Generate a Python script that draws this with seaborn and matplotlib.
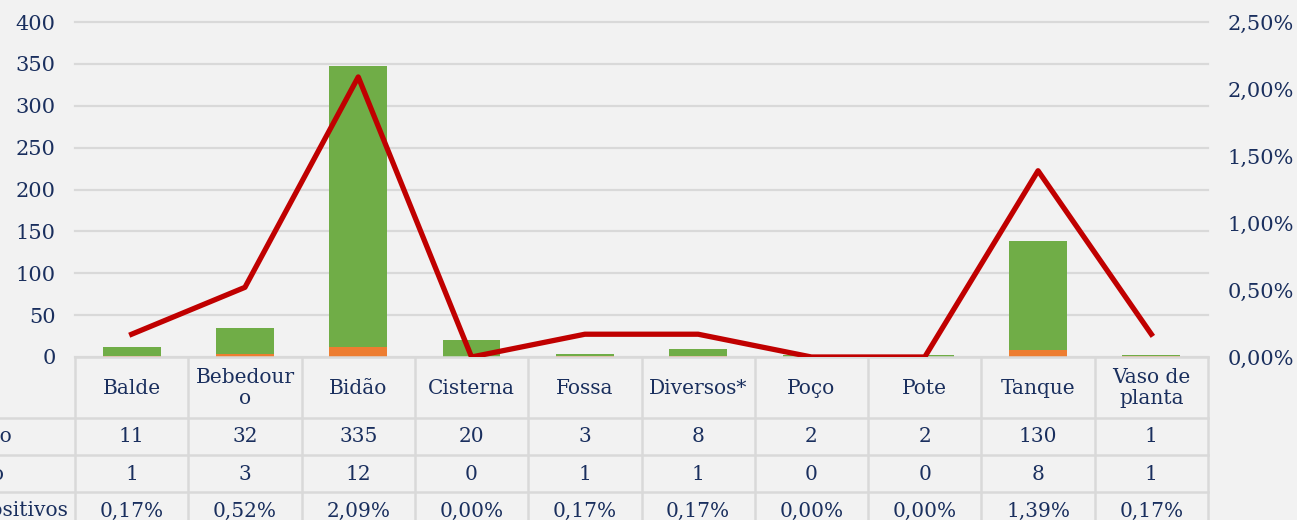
import numpy as np
import matplotlib
matplotlib.use("Agg")
import matplotlib.pyplot as plt
import seaborn as sns

# dados por tipo de depósito
categorias = ["Balde", "Bebedouro", "Bidão", "Cisterna", "Fossa", "Diversos*",
              "Poço", "Pote", "Tanque", "Vaso de planta"]
rotulos_tabela = ["Balde", "Bebedour\no", "Bidão", "Cisterna", "Fossa", "Diversos*",
                  "Poço", "Pote", "Tanque", "Vaso de\nplanta"]
negativo = [11, 32, 335, 20, 3, 8, 2, 2, 130, 1]
positivo = [1, 3, 12, 0, 1, 1, 0, 0, 8, 1]
pct_positivos = [0.17, 0.52, 2.09, 0.00, 0.17, 0.17, 0.00, 0.00, 1.39, 0.17]
linhas_tabela = ["Negativo", "Positivo", "% positivos"]

bg = "#F2F2F2"
navy = "#1A2F5E"
grid_c = "#D9D9D9"
green = "#70AD47"
orange = "#ED7D31"
red = "#C00000"

plt.rcParams["font.family"] = ["DejaVu Serif"]
plt.rcParams["font.size"] = 14

W, H = 1297, 520
fig = plt.figure(figsize=(W / 100, H / 100), dpi=100, facecolor=bg)
x0, x1, y0, y1 = 75, 1208, 357, 22
ax = fig.add_axes([x0 / W, (H - y0) / H, (x1 - x0) / W, (y0 - y1) / H])
ax.set_facecolor(bg)

total = [n + p for n, p in zip(negativo, positivo)]
idx = np.arange(len(categorias))
sns.barplot(x=idx, y=total, color=green, saturation=1, width=0.51, ax=ax, native_scale=True)
sns.barplot(x=idx, y=positivo, color=orange, saturation=1, width=0.51, ax=ax, native_scale=True)

ax.set_xlim(-0.5, len(categorias) - 0.5)
ax.set_ylim(0, 400)
ax.set_yticks(range(0, 401, 50))
ax.grid(axis="y", color=grid_c, lw=1.6)
ax.grid(axis="x", visible=False)
for gl in ax.get_ygridlines():
    gl.set_clip_on(False)
ax.set_axisbelow(True)
ax.tick_params(axis="x", length=0, labelbottom=False)
ax.tick_params(axis="y", length=0, pad=14, labelcolor=navy, labelsize=15)
ax.set_xlabel("")
ax.set_ylabel("")
for s in ax.spines.values():
    s.set_visible(False)

ax2 = ax.twinx()
sns.lineplot(x=idx, y=pct_positivos, color=red, lw=3.8, ax=ax2)
ax2.set_ylim(0, 2.5)
ax2.set_yticks(np.arange(0, 2.51, 0.5))
ax2.set_yticklabels([f"{v:.2f}%".replace(".", ",") for v in np.arange(0, 2.51, 0.5)])
ax2.tick_params(axis="y", length=0, pad=14, labelcolor=navy, labelsize=15)
ax2.set_ylabel("")
for s in ax2.spines.values():
    s.set_visible(False)

# tabela de dados abaixo do gráfico
tr = ax.get_xaxis_transform()
px = (x1 - x0) / len(categorias)          # pixels por categoria
h_ax = y0 - y1
def ya(ypix):
    return (y0 - ypix) / h_ax

row_y = [357, 418, 455, 492, 529]
left_edge = -0.5 - x0 / px
lk = dict(color=grid_c, lw=1.8, transform=tr, clip_on=False)
ax.plot([-0.5, 9.5], [0, 0], **lk)
for yy in row_y[1:4]:
    ax.plot([left_edge, 9.5], [ya(yy), ya(yy)], **lk)
for i in range(len(categorias) + 1):
    ax.plot([i - 0.5, i - 0.5], [0, ya(row_y[-1])], **lk)

tk = dict(color=navy, fontsize=14.5, ha="center", va="center", transform=tr,
          clip_on=False, linespacing=1.15)
for i, lab in enumerate(rotulos_tabela):
    ax.text(i, ya(388), lab, **tk)
    ax.text(i, ya(437), str(negativo[i]), **tk)
    ax.text(i, ya(474), str(positivo[i]), **tk)
    ax.text(i, ya(511), f"{pct_positivos[i]:.2f}%".replace(".", ","), **tk)

# rótulos das linhas, cortados pela borda esquerda como no original
for lab, yy, xend in zip(linhas_tabela, [437, 474, 511], [12, 5, 68]):
    ax.text(-0.5 - (x0 - xend) / px, ya(yy), lab, color=navy, fontsize=14.5,
            ha="right", va="center", transform=tr, clip_on=False)

fig.savefig("out.png", dpi=100, facecolor=bg)
